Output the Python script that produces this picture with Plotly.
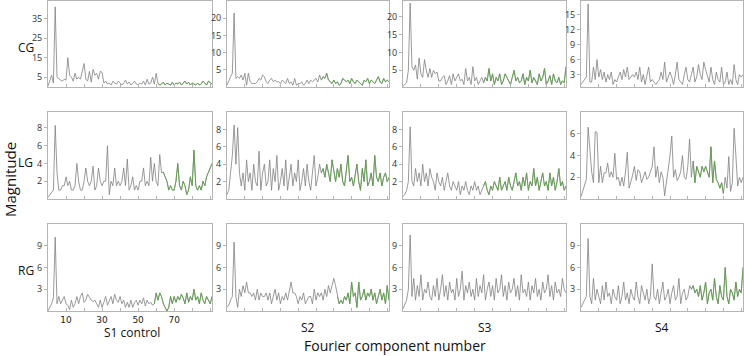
import plotly.graph_objects as go

W, H = 744, 356

rows = ["CG", "LG", "RG"]
cols = ["S1 control", "S2", "S3", "S4"]

CG_S1 = [0.5, 3, 6, 2, 41, 5, 4, 3.5, 3, 4,
         3.5, 15, 6, 5, 3, 7, 4, 5, 4, 9,
         12, 4, 3, 8, 2.5, 9, 6, 7, 4, 8,
         7.5, 2, 3, 1.5, 2, 1, 3, 2, 1.5, 3,
         2, 1, 2, 3.5, 1.5, 2.5, 1, 2, 3, 1.5,
         1, 2, 1.5, 3, 1, 4, 1.5, 2, 5, 1.5,
         7, 2, 1, 1.5, 2.5, 1, 2, 1.5, 1, 2.5,
         1, 2, 1.5, 2.5, 1, 2, 3, 1.5, 2.5, 1,
         2, 1.5, 1, 2, 1, 1.5, 3, 2, 1, 3,
         2, 1.5]
CG_S2 = [0.5, 2, 3, 4, 21.5, 2.5, 3, 2.5, 3.5, 2,
         4, 0.5, 4, 1.5, 1, 1, 1, 1.5, 2.5, 2,
         3.5, 3, 1.5, 1, 2, 2.5, 1.5, 2, 1.5, 1.5,
         1, 2, 1.5, 1, 2.5, 1, 1.5, 0.5, 2.5, 0.5,
         1, 1, 1.5, 0.5, 1, 2, 1, 2, 1.5, 2,
         2.5, 1.5, 3.5, 2, 3, 2.5, 4, 2, 1.5, 1,
         2, 1, 1.5, 0.5, 1, 2.5, 2, 1.5, 2, 1,
         2.5, 1.5, 1, 2, 1.5, 1, 0.5, 2, 1.5, 2.5,
         1, 2, 1.5, 1, 2, 3, 1.5, 1, 2.5, 1.5,
         2, 1.5]
CG_S3 = [0.5, 1, 1.5, 5, 23.9, 6, 5, 6.5, 2.5, 8.5,
         4, 3, 8, 5, 3, 5.5, 3, 5, 4, 4.5,
         2, 2, 3, 3.5, 1, 2, 3.5, 1, 4, 2,
         3, 4, 2, 2.5, 1, 5.5, 2, 3, 1, 6,
         2, 3, 1, 2, 3, 1.5, 3, 2, 5.5, 2,
         4, 1, 3, 2, 4, 1, 2, 4, 3, 2,
         1, 3, 5, 2, 3, 1.5, 2, 4, 1, 3,
         2, 5, 1.5, 3, 2, 1, 4, 2, 3, 5.5,
         1, 2, 3.5, 1, 4, 2, 1.5, 3, 1, 2,
         1.5, 6]
CG_S4 = [1, 1.5, 2, 2.5, 17.2, 1.5, 1.5, 4.5, 2, 6,
         2.5, 4, 2, 3.5, 1.5, 3, 2, 3.5, 1, 2,
         1.5, 2.5, 3.5, 2, 4, 2.5, 4.5, 2, 2.5, 3,
         2.5, 3.5, 2, 4.5, 1.5, 3, 1, 2.5, 4.5, 1.5,
         2, 1.5, 1, 1.5, 2, 3.5, 2, 5.5, 1.5, 2.5,
         3.5, 2.5, 1, 3, 5.5, 2, 1.5, 1, 3, 4.5,
         2, 1.5, 3, 4.5, 1.5, 2.5, 5, 3, 2, 5.5,
         4, 2.5, 1.5, 4.5, 2, 1, 3.5, 2, 1.5, 4.5,
         1, 1.5, 3.5, 1, 2, 1, 5, 2, 1, 3,
         2.5, 3]
LG_S1 = [0.2, 0.5, 0.8, 1, 8.3, 3, 1, 1, 1.5, 1.5,
         2.5, 1.5, 2, 1, 1, 1.5, 4, 2, 1, 1,
         2, 3.5, 2, 1.5, 2, 3.7, 1, 1.5, 3.5, 2,
         1.5, 2, 2, 6, 0.5, 2, 1.5, 3.5, 1.5, 2,
         1.5, 2, 3.5, 1.5, 4.5, 1, 1.5, 2.5, 1, 1.5,
         1, 2, 2, 3.5, 1.5, 2, 1.5, 4.7, 2, 4,
         2, 1.5, 5, 3, 3, 2.5, 2, 1, 1.5, 1,
         1, 2, 4, 1.5, 1, 2, 1.5, 0.5, 1, 2.5,
         1.5, 5.5, 1.5, 1, 1.5, 1, 2, 1.5, 2.5, 3,
         3.5, 4]
LG_S2 = [0.5, 1, 3, 5, 8.5, 4, 8.2, 3, 1.5, 3,
         1, 4.5, 2, 3, 1, 4, 2, 1.5, 5.5, 1,
         3, 4, 1.5, 2, 4.5, 1, 3.5, 2, 5, 1,
         2, 3.5, 1.5, 4.5, 1, 2.5, 4, 1.5, 3, 2,
         4.5, 1, 2, 3.5, 1.5, 4, 2, 1, 3, 5,
         1.5, 2.5, 4, 3, 3.5, 2.5, 4, 3, 2, 4.5,
         3, 2, 3.5, 2.5, 4, 2, 1.5, 3, 5, 2,
         2.5, 1.5, 3, 4, 2, 1, 3.5, 2, 4.5, 1.5,
         2, 3, 1.5, 5, 2.5, 2, 3, 1.5, 2.5, 3,
         2, 2.5]
LG_S3 = [0.3, 0.5, 1, 2, 8.3, 2, 1.5, 3.5, 2, 3,
         1.5, 4, 2, 3, 1.5, 3.5, 2.5, 2, 1, 3,
         2, 1.5, 2.5, 1, 2, 3, 1.5, 1, 2, 1.5,
         1, 2, 0.5, 1.5, 1, 2, 1, 0.5, 1.5, 1,
         2, 1, 1.5, 0.5, 1, 1.5, 2, 1, 0.5, 1.5,
         1, 2, 1.5, 1, 2.5, 1, 1.5, 2, 1, 2.5,
         1.5, 1, 2, 3, 1.5, 2, 1, 2.5, 1.5, 3,
         1, 2, 1.5, 3.5, 1.5, 2.5, 1, 2, 3, 1.5,
         2, 1, 3, 1.5, 2.5, 1, 2, 3.5, 1.5, 2,
         1, 1.5]
LG_S4 = [0.2, 0.7, 1.3, 1.8, 6.6, 4.5, 2.5, 1.5, 6.2, 6.1,
         1.5, 3, 1.5, 2.4, 2.4, 3.3, 2, 2.5, 2, 4.2,
         1.8, 2, 1.2, 2, 1.2, 2.5, 4.3, 1, 1.5, 2.2,
         3, 1.7, 2.7, 2.5, 1.5, 2, 2.5, 1.8, 2, 2.5,
         3, 4.8, 2, 3, 1.5, 2.5, 2, 0.3, 1.5, 3,
         4, 5.8, 2, 2.7, 1.7, 2, 2.5, 4, 2, 1.8,
         3, 5.5, 2, 3.5, 1.5, 3, 2.5, 2, 3, 2.5,
         3, 2.5, 2, 4.8, 1.5, 3.5, 1.8, 1.5, 1, 1.5,
         0.5, 2, 1, 3.9, 0.7, 1.5, 6.5, 4, 1.2, 2,
         1.5, 2]
RG_S1 = [0, 0.5, 1, 1.8, 10.2, 1, 2, 1, 1.5, 2,
         1, 0.8, 0.2, 1.5, 0.5, 1, 2, 1, 2, 2.5,
         1.2, 1.5, 2.3, 1.8, 1.5, 1.3, 1.5, 1, 0.5, 1.5,
         0.5, 1.2, 2, 0.8, 1.5, 2, 1, 2.3, 1.5, 1.2,
         2, 1, 1.5, 0.5, 1.2, 0.5, 1.5, 0.5, 1.2, 1.5,
         0.8, 1.5, 1, 1.8, 0.7, 1.5, 1, 1.2, 0.8, 1,
         2.5, 1.5, 2.5, 2, 1, 0.5, 0, 0.5, 2, 1,
         2, 1.2, 2, 1.5, 2.3, 1.8, 1, 2.5, 1.2, 2,
         1.5, 3, 1.5, 2, 1, 2.5, 1.5, 1, 2, 1.5,
         1, 2]
RG_S2 = [0.5, 0.8, 1.5, 2, 9.5, 2, 0.5, 3, 2, 3.5,
         2.5, 4, 2.5, 2.5, 2, 2.5, 1.5, 3, 1.5, 2.5,
         2, 2, 2.5, 1.5, 2.5, 1, 2, 3, 1.5, 2.5,
         1, 2, 1.5, 2.5, 1.5, 3, 4, 2.5, 2.5, 2,
         1, 2, 1.5, 2.5, 1, 1.5, 2, 2, 1, 3,
         1.5, 2.5, 2, 2.5, 1.5, 3, 2, 3.5, 2.5, 3.5,
         4.5, 3.5, 2, 1, 1.5, 1, 2, 1.5, 2.5, 1,
         4, 2, 2.5, 0.5, 4, 1.5, 2, 3, 1.5, 2.5,
         2, 3, 1.5, 2.5, 1, 2, 3, 1.5, 2.5, 1,
         3.5, 1.5]
RG_S3 = [0.3, 0.8, 1.5, 3, 10.5, 2, 4.5, 1.5, 3.5, 2,
         5, 1.5, 3, 2.5, 4, 2, 1.5, 3.5, 2, 4.5,
         1.5, 3, 5, 2, 3.5, 1.5, 4, 2.5, 3, 1.5,
         4.5, 2, 3, 5.5, 1.5, 3.5, 2.5, 4, 2, 3,
         1.5, 4.5, 2, 3.5, 2.5, 5, 1.5, 3, 4, 2,
         3.5, 1.5, 4.5, 2.5, 3, 5, 2, 3.5, 1.5, 4,
         2.5, 3, 4.5, 2, 3.5, 1.5, 5, 2.5, 3, 2,
         4, 1.5, 3.5, 2.5, 4.5, 2, 3, 1.5, 4, 2.5,
         3, 5, 2, 3.5, 1.5, 4, 2.5, 3, 2, 4.5,
         3, 2.5]
RG_S4 = [0.5, 1, 1.5, 2, 10, 2, 1, 4.5, 1.5, 3,
         2, 1, 3.5, 1.5, 4, 2, 2.5, 1, 3, 2,
         1.5, 3.5, 1, 2, 4, 1.5, 2.5, 1, 3, 2,
         1.5, 4, 2, 1, 3.5, 2.5, 1.5, 3, 1, 2,
         6.5, 2, 1.5, 3, 1, 2.5, 4, 1.5, 2, 3,
         1, 2.5, 3.5, 1.5, 2, 4.5, 1, 2.5, 3, 1.5,
         2, 3.5, 3, 3.5, 2.5, 3, 2, 3.5, 1.5, 2.5,
         4, 1, 2.5, 3, 1.5, 4.5, 2, 1, 3.5, 2,
         1.5, 6, 2, 1, 3, 2.5, 1.5, 4, 2, 3,
         2.5, 6]

series = [[CG_S1, CG_S2, CG_S3, CG_S4],
          [LG_S1, LG_S2, LG_S3, LG_S4],
          [RG_S1, RG_S2, RG_S3, RG_S4]]

# green-highlighted component ranges [start, end] per panel (None = none)
green = [[(61, 91), (53, 91), (45, 91), None],
         [(63, 91), (53, 91), (45, 91), (63, 80)],
         [(59, 91), (62, 91), None, (62, 91)]]

y_ranges = [[(0, 44), (0, 25), (0.3, 24.5), (0.5, 17.8)],
            [(0, 9.8), (0, 10), (0, 10), (0, 8)],
            [(0, 12), (0, 12), (0, 12), (0, 12)]]
y_ticks = [[[5, 15, 25, 35], [5, 10, 15, 20], [5, 10, 15, 20], [3, 6, 9, 12, 15]],
           [[2, 4, 6, 8], [2, 4, 6, 8], [2, 4, 6, 8], [2, 4, 6]],
           [[3, 6, 9], [3, 6, 9], [3, 6, 9], [3, 6, 9]]]
x_tick_labels = [10, 30, 50, 70]

col_px = [(48, 212), (227, 389), (403, 566), (581, 743)]
row_px = [(1, 87), (112, 199), (224, 311)]

GRAY = "#808080"
GREEN = "#5aa046"
FRAME = "#b4b4b4"
FONT = "Open Sans"

fig = go.Figure()
layout = {}
for r in range(3):
    for c in range(4):
        k = r * 4 + c + 1
        xa = "x" if k == 1 else f"x{k}"
        ya = "y" if k == 1 else f"y{k}"
        vals = series[r][c]
        xs = list(range(len(vals)))
        g = green[r][c]
        fig.add_trace(go.Scatter(x=xs, y=vals, mode="lines",
                                 line=dict(color=GRAY, width=0.8),
                                 xaxis=xa, yaxis=ya, showlegend=False,
                                 hoverinfo="skip"))
        if g is not None:
            s, e = g
            fig.add_trace(go.Scatter(x=xs[s:e + 1], y=vals[s:e + 1], mode="lines",
                                     line=dict(color=GREEN, width=0.8),
                                     xaxis=xa, yaxis=ya, showlegend=False,
                                     hoverinfo="skip"))
        x0, x1 = col_px[c]
        y0, y1 = row_px[r]
        show_x_labels = (r == 2 and c == 0)
        xax = dict(
            domain=[x0 / W, x1 / W], anchor=ya, range=[0, len(vals) - 1],
            showline=True, linecolor=FRAME, linewidth=1, mirror=True,
            ticks="inside", ticklen=3, tickcolor=FRAME,
            tickmode="array", tickvals=x_tick_labels,
            ticktext=[str(v) for v in x_tick_labels], tickangle=0,
            minor=dict(ticks="inside", ticklen=3, tickcolor=FRAME, tick0=0, dtick=10,
                       showgrid=False),
            showticklabels=show_x_labels, showgrid=False, zeroline=False,
            tickfont=dict(size=9, color="#222", family="DejaVu Sans"),
        )
        layout["xaxis" if k == 1 else f"xaxis{k}"] = xax
        layout["yaxis" if k == 1 else f"yaxis{k}"] = dict(
            domain=[1 - y1 / H, 1 - y0 / H], anchor=xa, range=list(y_ranges[r][c]),
            showline=True, linecolor=FRAME, linewidth=1, mirror=True,
            ticks="outside", ticklen=3, tickcolor=FRAME,
            tickvals=y_ticks[r][c], showgrid=False, zeroline=False,
            tickfont=dict(size=9, color="#333", family=FONT),
        )

annotations = []
def ann(text, px, py, size, angle=0):
    annotations.append(dict(text=text, x=px / W, y=1 - py / H, xref="paper", yref="paper",
                            showarrow=False, textangle=angle,
                            font=dict(size=size, color="#111", family=FONT),
                            xanchor="center", yanchor="middle"))

for name, py in zip(rows, [47, 162, 270]):
    ann(name, 26, py, 12)
ann("Magnitude", 10, 180, 15, -90)
ann(cols[0], 132, 332, 12)
for name, px in zip(cols[1:], [308, 485, 662]):
    ann(name, px, 327, 12)
ann("Fourier component number", 395, 345, 14)

fig.update_layout(width=W, height=H, margin=dict(l=0, r=0, t=0, b=0),
                  paper_bgcolor="white", plot_bgcolor="white",
                  annotations=annotations, **layout)
fig.write_html("out.html", config={"displayModeBar": False},
               post_script="document.body.style.margin='0';document.body.style.overflow='hidden';")
